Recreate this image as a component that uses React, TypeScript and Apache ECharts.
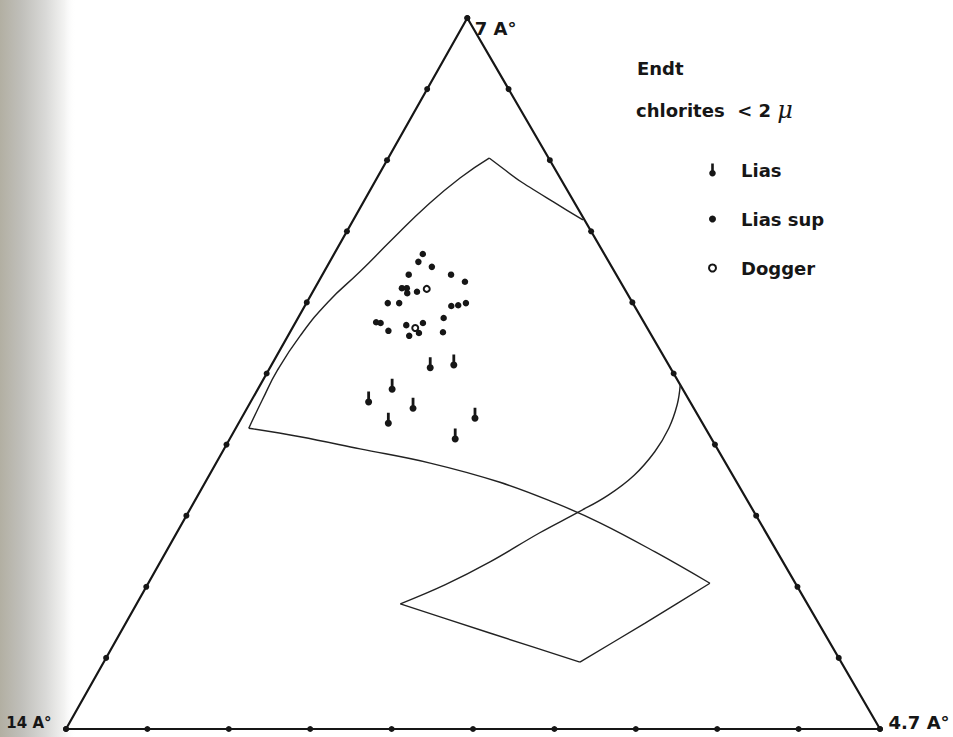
import React, { useEffect, useRef } from "react";
import * as echarts from "echarts";

// Horizontal position of the 7 Å apex, as a fraction of the 14 Å – 4.7 Å base.
const APEX_X = 0.493;

// Compositions are given as [7 Å %, 4.7 Å %]; the 14 Å share is the remainder.
const LIAS: [number, number][] = [
  [50.8, 19.7], [51.2, 22.4], [47.8, 16.5], [46.0, 14.5],
  [45.1, 20.4], [43.0, 18.4], [43.7, 28.7], [40.8, 27.7],
];

const LIAS_SUP: [number, number][] = [
  [66.8, 10.9], [65.7, 10.9], [65.0, 12.9], [63.9, 10.6], [63.9, 15.8],
  [62.9, 18.0], [62.0, 10.7], [62.0, 11.3], [61.3, 11.7], [61.5, 12.8],
  [59.9, 10.0], [59.9, 11.4], [59.5, 18.0], [59.6, 18.8], [59.9, 19.6],
  [57.2, 9.9], [57.1, 10.5], [56.0, 12.0], [56.8, 13.8], [57.1, 15.7],
  [55.7, 15.9], [55.3, 14.9], [57.8, 17.9], [55.8, 18.8],
];

const DOGGER: [number, number][] = [
  [56.4, 15.1], [61.9, 13.8],
];

// Outline of the chlorite field (drawn as separate strokes meeting at corners).
const FIELD_UPPER_ARC: [number, number][] = [
  [42.3, 1.6], [46.3, 1.3], [50.5, 1.1], [55.3, 1.5], [60.1, 2.6],
  [64.3, 4.4], [68.8, 6.1], [73.7, 8.1], [77.5, 10.2], [80.3, 12.4],
];
const FIELD_UPPER_RIGHT: [number, number][] = [
  [80.3, 12.4], [77.0, 17.9], [74.2, 23.2], [71.6, 28.2],
];
const FIELD_RIGHT_CURVE: [number, number][] = [
  [48.4, 51.6], [45.6, 52.6], [42.3, 53.2], [39.0, 53.1], [35.7, 52.2],
  [32.9, 50.4], [30.5, 47.9], [27.6, 44.6], [23.5, 40.5], [20.3, 36.6],
  [17.6, 32.4],
];
const FIELD_BOTTOM_LEFT: [number, number][] = [
  [17.6, 32.4], [13.5, 45.4], [9.4, 58.5],
];
const FIELD_BOTTOM_RIGHT: [number, number][] = [
  [9.4, 58.5], [14.9, 63.8], [20.5, 69.0],
];
const FIELD_LOWER_LINE: [number, number][] = [
  [42.3, 1.6], [41.1, 8.5], [39.4, 16.7], [37.4, 26.3], [34.7, 36.2],
  [31.8, 44.4], [29.0, 51.3], [24.9, 60.1], [20.5, 69.0],
];

// Graduation of every side, in percent.
const EDGE_TICKS = [0, 10, 20, 30, 40, 50, 60, 70, 80, 90, 100];

const VERTEX_NAMES = ["14 A°", "4.7 A°", "7 A°"];
const VERTICES: [number, number][] = [[0, 0], [0, 100], [100, 0]];

const TITLE = "Endt";
const SUBTITLE = "chlorites  < 2 ";
const SUBTITLE_UNIT = "μ";

const INK = "#161616";

// Pin-shaped marker: a round head with a short stem pointing up.
const PIN =
  "path://M-1.2,-9L1.2,-9L1.2,-2.75C2.3,-2.3,3,-1.2,3,0C3,1.66,1.66,3,0,3" +
  "C-1.66,3,-3,1.66,-3,0C-3,-1.2,-2.3,-2.3,-1.2,-2.75Z";

const toXY = ([p7, p47]: [number, number]) => [p47 + APEX_X * p7, p7];

export default function App() {
  const ref = useRef<HTMLDivElement>(null);

  useEffect(() => {
    if (!ref.current) return;
    const chart = echarts.init(ref.current, null, { renderer: "svg" });

    const tickPoints: [number, number][] = [];
    EDGE_TICKS.forEach((t) => {
      tickPoints.push([t, 0]); // 14 Å – 7 Å side
      tickPoints.push([0, t]); // 14 Å – 4.7 Å side
      tickPoints.push([t, 100 - t]); // 4.7 Å – 7 Å side
    });

    const fieldLine = (name: string, pts: [number, number][], smooth: number) => ({
      type: "line",
      name,
      data: pts.map(toXY),
      smooth,
      symbol: "none",
      clip: false,
      silent: true,
      lineStyle: { color: "#222222", width: 1.4 },
      z: 3,
    });

    const labelPlacement = [
      { position: "left", distance: 14, offset: [0, -6], fontSize: 15 },
      { position: "right", distance: 8, offset: [0, -7], fontSize: 18 },
      { position: "right", distance: 7, offset: [0, 10], fontSize: 18 },
    ];

    chart.setOption({
      animation: false,
      backgroundColor: "#ffffff",
      grid: { left: 66, right: 73, top: 18, bottom: 8 },
      xAxis: { type: "value", min: 0, max: 100, show: false },
      yAxis: { type: "value", min: 0, max: 100, show: false },
      legend: {
        data: ["Lias", "Lias sup", "Dogger"],
        orient: "vertical",
        left: 703,
        top: 156,
        itemWidth: 7,
        itemHeight: 13,
        itemGap: 31,
        selectedMode: false,
        textStyle: {
          fontFamily: "DejaVu Sans",
          fontSize: 18,
          fontWeight: "bold",
          color: INK,
          padding: [0, 0, 0, 20],
        },
      },
      graphic: [
        {
          type: "rect",
          silent: true,
          z: -10,
          shape: { x: 0, y: 0, width: 76, height: 737 },
          style: {
            fill: new echarts.graphic.LinearGradient(0, 0, 1, 0, [
              { offset: 0, color: "#b2afa2" },
              { offset: 0.28, color: "#c0bfba" },
              { offset: 0.6, color: "#d9d9d7" },
              { offset: 0.85, color: "#f3f3f2" },
              { offset: 1, color: "rgba(255,255,255,0)" },
            ]),
          },
        },
        {
          type: "text",
          x: 637,
          y: 68,
          silent: true,
          style: {
            text: TITLE,
            fontFamily: "DejaVu Sans",
            fontSize: 18,
            fontWeight: "bold",
            fill: INK,
            verticalAlign: "middle",
          },
        },
        {
          type: "text",
          x: 636,
          y: 110,
          silent: true,
          style: {
            text: `{a|${SUBTITLE}}{m|${SUBTITLE_UNIT}}`,
            fill: INK,
            verticalAlign: "middle",
            rich: {
              a: { fontFamily: "DejaVu Sans", fontSize: 18, fontWeight: "bold", fill: INK },
              m: { fontFamily: "DejaVu Serif", fontSize: 24, fontStyle: "italic", fill: INK },
            },
          },
        },
      ],
      series: [
        {
          type: "line",
          name: "frame",
          data: [VERTICES[0], VERTICES[1], VERTICES[2], VERTICES[0]].map(toXY),
          symbol: "none",
          clip: false,
          silent: true,
          lineStyle: { color: INK, width: 2.2 },
          z: 2,
        },
        {
          type: "scatter",
          name: "ticks",
          data: tickPoints.map(toXY),
          symbol: "circle",
          symbolSize: 6,
          clip: false,
          silent: true,
          itemStyle: { color: INK, opacity: 1 },
          z: 4,
        },
        {
          type: "scatter",
          name: "vertices",
          data: VERTICES.map((v, i) => ({
            value: toXY(v),
            label: {
              show: true,
              formatter: VERTEX_NAMES[i],
              position: labelPlacement[i].position,
              distance: labelPlacement[i].distance,
              offset: labelPlacement[i].offset,
              fontSize: labelPlacement[i].fontSize,
              fontFamily: "DejaVu Sans",
              fontWeight: "bold",
              color: INK,
            },
          })),
          symbolSize: 1,
          clip: false,
          silent: true,
          itemStyle: { color: INK, opacity: 1 },
          z: 4,
        },
        fieldLine("field-upper-arc", FIELD_UPPER_ARC, 0.5),
        fieldLine("field-upper-right", FIELD_UPPER_RIGHT, 0.2),
        fieldLine("field-right-curve", FIELD_RIGHT_CURVE, 0.4),
        fieldLine("field-bottom-left", FIELD_BOTTOM_LEFT, 0.2),
        fieldLine("field-bottom-right", FIELD_BOTTOM_RIGHT, 0.2),
        fieldLine("field-lower-line", FIELD_LOWER_LINE, 0.4),
        {
          type: "scatter",
          name: "Lias",
          data: LIAS.map(toXY),
          symbol: PIN,
          symbolSize: [7, 14],
          symbolOffset: [0, -3.5],
          clip: false,
          itemStyle: { color: INK, opacity: 1 },
          z: 5,
        },
        {
          type: "scatter",
          name: "Lias sup",
          data: LIAS_SUP.map(toXY),
          symbol: "circle",
          symbolSize: 6.5,
          clip: false,
          itemStyle: { color: INK, opacity: 1 },
          z: 5,
        },
        {
          type: "scatter",
          name: "Dogger",
          data: DOGGER.map(toXY),
          symbol: "emptyCircle",
          symbolSize: 6,
          clip: false,
          itemStyle: { color: INK, borderColor: INK, borderWidth: 2, opacity: 1 },
          z: 6,
        },
      ],
    });

    return () => chart.dispose();
  }, []);

  return (
    <div
      ref={ref}
      style={{ position: "absolute", left: 0, top: 0, width: 953, height: 737 }}
    />
  );
}
